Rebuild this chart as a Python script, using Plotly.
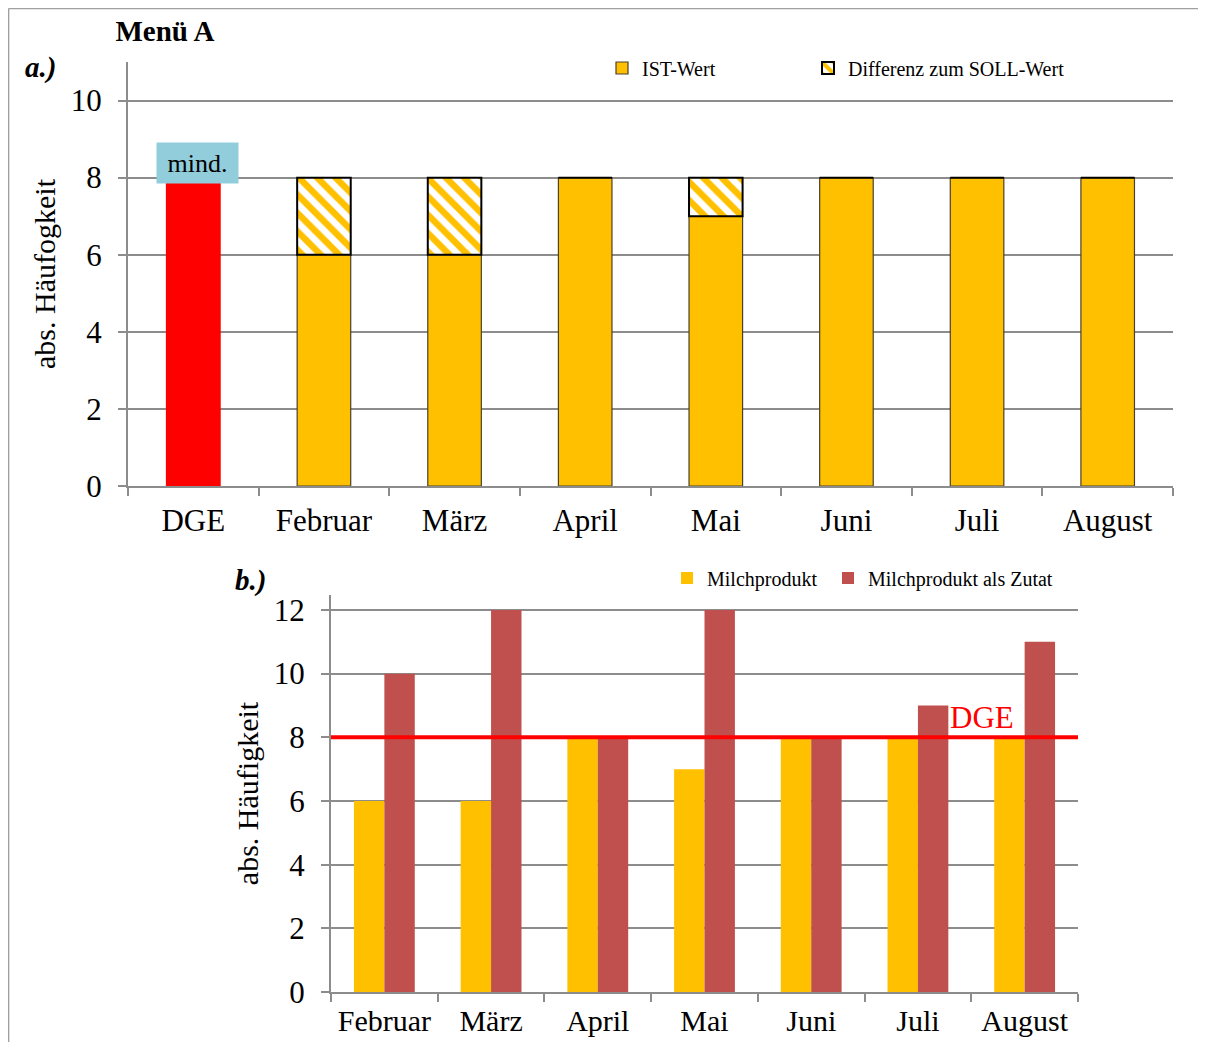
import plotly.graph_objects as go

# ---- data ----
cats_a = ["DGE", "Februar", "März", "April", "Mai", "Juni", "Juli", "August"]
months = ["Februar", "März", "April", "Mai", "Juni", "Juli", "August"]
dge_value = [8]
ist_wert = [6, 6, 8, 7, 8, 8, 8]
differenz = [2, 2, 0, 1, 0, 0, 0]
milchprodukt = [6, 6, 8, 7, 8, 8, 8]
milch_zutat = [10, 12, 8, 12, 8, 9, 11]
dge_line = 8
yticks_a = [0, 2, 4, 6, 8, 10]
yticks_b = [0, 2, 4, 6, 8, 10, 12]

# figure is placed inside the page body (8px margin), so it is sized to fit the window
OFF = 8
W, H = 1190, 1034
FONT = "Liberation Serif"
YEL = "#FFC000"
RED = "#C0504D"
GRID = "#8C8C8C"

def px(x):
    return (x - OFF) / W

def py(y):
    return 1 - (y - OFF) / H

fig = go.Figure()

# ---- chart a ----
fig.add_trace(go.Bar(x=["DGE"], y=dge_value, xaxis="x", yaxis="y",
                     marker=dict(color="#FF0000", line=dict(width=0)),
                     width=0.42, offset=-0.21, showlegend=False, name="DGE"))
fig.add_trace(go.Bar(x=months, y=ist_wert, xaxis="x", yaxis="y", name="IST-Wert",
                     marker=dict(color=YEL, line=dict(color="#4a4030", width=1.2)),
                     width=0.41, offset=-0.205, legend="legend"))
fig.add_trace(go.Bar(x=months, y=differenz, base=ist_wert, xaxis="x", yaxis="y",
                     name="Differenz zum SOLL-Wert",
                     marker=dict(color="white", line=dict(color="black", width=2),
                                 pattern=dict(shape="\\", fgcolor=YEL, bgcolor="white",
                                              fgopacity=1, size=13, solidity=0.5,
                                              fillmode="replace")),
                     width=0.41, offset=-0.205, legend="legend3"))

# ---- chart b ----
fig.add_trace(go.Bar(x=months, y=milchprodukt, xaxis="x2", yaxis="y2", name="Milchprodukt",
                     marker=dict(color=YEL, line=dict(width=0)),
                     width=0.285, offset=-0.285, legend="legend2"))
fig.add_trace(go.Bar(x=months, y=milch_zutat, xaxis="x2", yaxis="y2",
                     name="Milchprodukt als Zutat",
                     marker=dict(color=RED, line=dict(width=0)),
                     width=0.285, offset=0.0, legend="legend4"))

axis_common = dict(showline=True, linecolor=GRID, linewidth=2,
                   ticks="outside", tickcolor=GRID, tickwidth=2, ticklen=8,
                   zeroline=False, automargin=False)
tf = dict(family=FONT, size=31, color="black")

def leg(x, y):
    return dict(orientation="h", x=px(x), xanchor="left", y=py(y), yanchor="middle",
                bgcolor="rgba(0,0,0,0)", borderwidth=0,
                font=dict(family=FONT, size=20, color="black"))

fig.update_layout(
    width=W, height=H,
    margin=dict(l=0, r=0, t=0, b=0, autoexpand=False),
    paper_bgcolor="white", plot_bgcolor="white",
    barmode="overlay",
    font=dict(family=FONT, color="black"),
    xaxis=dict(domain=[px(128), px(1173)], anchor="y", type="category",
               categoryorder="array", categoryarray=cats_a, tickangle=0,
               tickson="boundaries", showgrid=False, range=[-0.5, 7.5],
               ticklabelstandoff=6, tickfont=tf, **axis_common),
    yaxis=dict(domain=[py(486), py(62)], anchor="x", range=[0, 11],
               tickvals=yticks_a, showgrid=True, gridcolor=GRID, gridwidth=2,
               ticklabelstandoff=10, tickfont=tf,
               title=dict(text="abs. Häufogkeit", font=dict(family=FONT, size=30), standoff=6),
               **axis_common),
    xaxis2=dict(domain=[px(331), px(1078)], anchor="y2", type="category",
                categoryorder="array", categoryarray=months, tickangle=0,
                tickson="boundaries", showgrid=False, range=[-0.5, 6.5],
                ticklabelstandoff=1, tickfont=dict(family=FONT, size=30, color="black"),
                **axis_common),
    yaxis2=dict(domain=[py(992), py(595)], anchor="x2", range=[0, 12.47],
                tickvals=yticks_b, showgrid=True, gridcolor=GRID, gridwidth=2,
                ticklabelstandoff=10, tickfont=tf,
                title=dict(text="abs. Häufigkeit", font=dict(family=FONT, size=30), standoff=6),
                **axis_common),
    title=dict(text="<b>Menü A</b>", x=px(165), xanchor="center", y=py(31), yanchor="middle",
               font=dict(family=FONT, size=29, color="black"), automargin=False),
    legend=leg(602, 68),
    legend3=leg(808, 68),
    legend2=leg(667, 578),
    legend4=leg(828, 578),
)

# DGE reference line in chart b
fig.add_shape(type="line", xref="x2 domain", yref="y2", x0=0, x1=1, y0=dge_line, y1=dge_line,
              line=dict(color="#FF0000", width=4), layer="above")
fig.add_annotation(xref="x2", yref="y2", x=5.28, y=dge_line, text="DGE", showarrow=False,
                   xanchor="left", yanchor="bottom", yshift=0,
                   font=dict(family=FONT, size=31, color="#FF0000"))

# "mind." label
fig.add_annotation(xref="x", yref="y", x="DGE", y=dge_value[0], text="mind.", showarrow=False,
                   xshift=4, yshift=15, yanchor="middle", width=79, height=38,
                   bgcolor="#92CDDC", font=dict(family=FONT, size=26, color="black"))

# panel labels
fig.add_annotation(xref="paper", yref="paper", x=px(40), y=py(68), text="<b><i>a.)</i></b>",
                   showarrow=False, xanchor="center", yanchor="middle",
                   font=dict(family=FONT, size=29, color="black"))
fig.add_annotation(xref="paper", yref="paper", x=px(250), y=py(580), text="<b><i>b.)</i></b>",
                   showarrow=False, xanchor="center", yanchor="middle",
                   font=dict(family=FONT, size=29, color="black"))

# frame
fig.add_shape(type="line", xref="paper", yref="paper", x0=0.0005, x1=0.0005, y0=0, y1=0.9995,
              line=dict(color="#A0A0A0", width=1.5))
fig.add_shape(type="line", xref="paper", yref="paper", x0=0.0005, x1=1, y0=0.9995, y1=0.9995,
              line=dict(color="#A0A0A0", width=1.5))

fig.write_html("out.html")
